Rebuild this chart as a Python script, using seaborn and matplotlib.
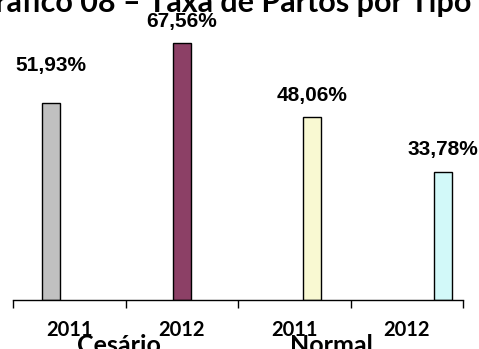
import matplotlib
matplotlib.use("Agg")
import matplotlib.pyplot as plt
import seaborn as sns
import pandas as pd

# Birth rates by delivery type and year
tipos = ["Cesário", "Cesário", "Normal", "Normal"]
anos = ["2011", "2012", "2011", "2012"]
series = ["Cesário 2011", "Cesário 2012", "Normal 2011", "Normal 2012"]
taxas = [51.93, 67.56, 48.06, 33.78]
cores = ["#C0C0C0", "#993366", "#FFFFCC", "#CCFFFF"]
titulo = "Gráfico 08 – Taxa de Partos por Tipo"

categorias = [f"{t} {a}" for t, a in zip(tipos, anos)]
df = pd.DataFrame({"categoria": categorias, "serie": series, "taxa": taxas})

# an empty leading series keeps the Excel-like cluster offsets
ordem_series = ["(vazio)"] + series
paleta = ["#FFFFFF"] + cores

sns.set_theme(style="white")
plt.rcParams["font.family"] = ["Liberation Sans", "DejaVu Sans"]

fig = plt.figure(figsize=(4.79, 3.49), dpi=100)
W, H = 479, 349
ax = fig.add_axes([13 / W, 49 / H, 450 / W, 280 / H])

sns.barplot(data=df, x="categoria", y="taxa", hue="serie",
            order=categorias, hue_order=ordem_series, palette=paleta,
            width=0.8, dodge=True, edgecolor="black", linewidth=1.0,
            legend=False, ax=ax)

ax.set_xlim(-0.5, 3.5)
ax.set_ylim(0, 280 / 3.8)
ax.set_xlabel("")
ax.set_ylabel("")
ax.set_yticks([])

# category boundaries as tick marks, year labels centred in each slot
ax.set_xticks([-0.5, 0.5, 1.5, 2.5, 3.5])
ax.set_xticklabels([])
ax.tick_params(axis="x", direction="out", length=5.5, width=1.0,
               color="black", bottom=True)
for lado in ["left", "right", "top"]:
    ax.spines[lado].set_visible(False)
ax.spines["bottom"].set_color("black")
ax.spines["bottom"].set_linewidth(1.0)

for i, ano in enumerate(anos):
    ax.text(i, -8.0, ano, ha="center", va="center", fontsize=14.5,
            fontweight="bold", family="Lato", color="black", clip_on=False)

ax.text(0.44, -14.0, "Cesário", ha="center", va="baseline", fontsize=18,
        fontweight="bold", family="Lato", color="black", clip_on=False)
ax.text(2.33, -14.0, "Normal", ha="center", va="baseline", fontsize=18,
        fontweight="bold", family="Lato", color="black", clip_on=False)

# value labels above each bar
deslocamentos = [37, 22, 22, 22]
for barra, valor, d in zip([p for p in ax.patches if p.get_height() > 0],
                           taxas, deslocamentos):
    x = barra.get_x() + barra.get_width() / 2
    ax.annotate(f"{valor:.2f}%".replace(".", ","), (x, barra.get_height()),
                xytext=(0, d * 0.72), textcoords="offset points",
                ha="center", va="center", fontsize=15, fontweight="bold",
                color="black", annotation_clip=False)

fig.text(222 / W, 1 - 12 / H, titulo, ha="center", va="baseline",
         fontsize=22, fontweight="bold", family="Lato", color="black")

fig.savefig("out.png", dpi=100, facecolor="white")
